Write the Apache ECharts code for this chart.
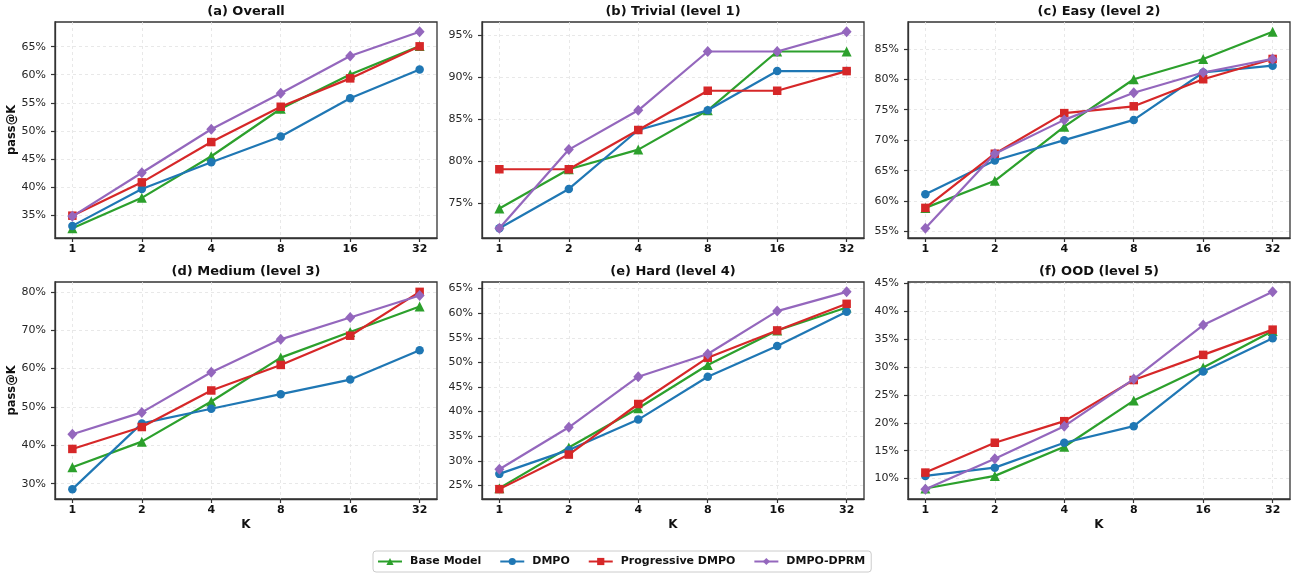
<!DOCTYPE html>
<html>
<head>
<meta charset="utf-8">
<script src="https://cdn.jsdelivr.net/npm/echarts@6/dist/echarts.min.js"></script>
<style>
html,body{margin:0;padding:0;background:#fff;}
#chart{width:1293px;height:573px;}
</style>
</head>
<body>
<div id="chart"></div>
<script>
// ---- data ----
const kLabels = ['1', '2', '4', '8', '16', '32'];
const seriesNames = ['Base Model', 'DMPO', 'Progressive DMPO', 'DMPO-DPRM'];
const panelTitles = ['(a) Overall', '(b) Trivial (level 1)', '(c) Easy (level 2)',
                     '(d) Medium (level 3)', '(e) Hard (level 4)', '(f) OOD (level 5)'];
const yStep = [5, 5, 5, 10, 5, 5];

// values in % ; order: Base Model, DMPO, Progressive DMPO, DMPO-DPRM
const overall = [
  [32.65, 38.06, 45.47, 53.94, 60.06, 65.10],
  [33.06, 39.65, 44.41, 49.00, 55.82, 60.94],
  [34.88, 40.82, 48.00, 54.29, 59.35, 65.06],
  [34.76, 42.53, 50.29, 56.70, 63.35, 67.65]
];
const trivial = [
  [74.42, 79.07, 81.40, 86.05, 93.02, 93.02],
  [72.09, 76.74, 83.72, 86.05, 90.70, 90.70],
  [79.07, 79.07, 83.72, 88.37, 88.37, 90.70],
  [72.09, 81.40, 86.05, 93.02, 93.02, 95.35]
];
const easy = [
  [58.89, 63.33, 72.22, 80.00, 83.33, 87.78],
  [61.11, 66.67, 70.00, 73.33, 81.11, 82.22],
  [58.89, 67.78, 74.44, 75.56, 80.00, 83.33],
  [55.56, 67.78, 73.33, 77.78, 81.11, 83.33]
];
const medium = [
  [34.29, 40.95, 51.43, 62.86, 69.52, 76.19],
  [28.57, 45.71, 49.52, 53.33, 57.14, 64.76],
  [39.05, 44.76, 54.29, 60.95, 68.57, 80.00],
  [42.86, 48.57, 59.05, 67.62, 73.33, 79.05]
];
const hard = [
  [24.46, 32.70, 40.68, 49.46, 56.49, 61.15],
  [27.36, 32.23, 38.38, 47.09, 53.31, 60.27],
  [24.26, 31.28, 41.55, 50.95, 56.49, 61.89],
  [28.31, 36.82, 47.09, 51.69, 60.41, 64.32]
];
const ood = [
  [8.21, 10.48, 15.71, 23.99, 29.94, 36.49],
  [10.48, 11.96, 16.43, 19.40, 29.23, 35.18],
  [11.07, 16.43, 20.30, 27.68, 32.20, 36.73],
  [8.10, 13.57, 19.40, 27.86, 37.56, 43.51]
];
const panels = [overall, trivial, easy, medium, hard, ood];

// ---- styles ----
const colors = ['#2ca02c', '#1f77b4', '#d62728', '#9467bd'];
const symbols = ['triangle', 'circle', 'rect', 'diamond'];
const symbolSizes = [10, 8.5, 8.5, [10, 11]];
const FONT = 'DejaVu Sans';
const frameColor = '#333333';
const textColor = '#262626';

const colLeft = [55, 482, 908];
const rowTop = [22, 282];
const gridW = 382;
const rowH = [216, 217];

const grids = [], xAxes = [], yAxes = [], titles = [], series = [];
const xIdx = kLabels.map((_, i) => i);

panels.forEach((panel, p) => {
  const r = Math.floor(p / 3), c = p % 3;
  grids.push({
    left: colLeft[c], top: rowTop[r], width: gridW, height: rowH[r],
    show: true, borderColor: frameColor, borderWidth: 1.3, backgroundColor: 'transparent'
  });
  titles.push({
    text: panelTitles[p],
    left: colLeft[c] + gridW / 2,
    textAlign: 'center',
    top: r === 0 ? 5 : 265,
    padding: 0,
    textStyle: { fontFamily: FONT, fontWeight: 'bold', fontSize: 13, color: '#111' }
  });
  xAxes.push({
    type: 'value', gridIndex: p, min: -0.25, max: 5.25,
    minInterval: 1, maxInterval: 1,
    name: r === 1 ? 'K' : '', nameLocation: 'middle', nameGap: 20,
    nameTextStyle: { fontFamily: FONT, fontWeight: 'bold', fontSize: 12, color: '#111' },
    axisLine: { show: true, onZero: false, lineStyle: { color: frameColor, width: 1.3 } },
    axisTick: { show: true, length: 4, customValues: xIdx, lineStyle: { color: frameColor, width: 1.2 } },
    axisLabel: {
      customValues: xIdx, margin: 6,
      formatter: v => kLabels[Math.round(v)] || '',
      fontFamily: FONT, fontWeight: 'bold', fontSize: 11, color: '#111'
    },
    splitLine: { show: true, lineStyle: { color: '#e3e3e3', type: [3, 3], width: 0.8 } }
  });
  let lo = Infinity, hi = -Infinity;
  panel.forEach(s => s.forEach(v => { lo = Math.min(lo, v); hi = Math.max(hi, v); }));
  const pad = (hi - lo) * 0.05;
  const ymin = lo - pad, ymax = hi + pad;
  const st = yStep[p];
  const yt = [];
  for (let t = Math.ceil(ymin / st) * st; t <= ymax + 1e-9; t += st) yt.push(t);
  yAxes.push({
    type: 'value', gridIndex: p, min: ymin, max: ymax,
    minInterval: st, maxInterval: st,
    name: c === 0 ? 'pass@K' : '', nameLocation: 'middle', nameGap: 35,
    nameTextStyle: { fontFamily: FONT, fontWeight: 'bold', fontSize: 11.5, color: '#111' },
    axisLine: { show: true, onZero: false, lineStyle: { color: frameColor, width: 1.3 } },
    axisTick: { show: true, length: 4, customValues: yt, lineStyle: { color: frameColor, width: 1.2 } },
    axisLabel: {
      customValues: yt, margin: 9,
      formatter: v => Math.round(v) + '%',
      fontFamily: FONT, fontSize: 11, color: textColor
    },
    splitLine: { show: true, lineStyle: { color: '#e3e3e3', type: [3, 3], width: 0.8 } }
  });
  panel.forEach((vals, s) => {
    series.push({
      type: 'line', name: seriesNames[s],
      xAxisIndex: p, yAxisIndex: p,
      data: vals.map((v, i) => [i, v]),
      symbol: symbols[s], symbolSize: symbolSizes[s],
      showAllSymbol: true,
      lineStyle: { color: colors[s], width: 2.2 },
      itemStyle: { color: colors[s], opacity: 1 },
      emphasis: { disabled: true },
      animation: false,
      z: 2 + s
    });
  });
});

const chart = echarts.init(document.getElementById('chart'), null, { renderer: 'canvas' });
chart.setOption({
  backgroundColor: '#ffffff',
  animation: false,
  color: colors,
  title: titles,
  grid: grids,
  xAxis: xAxes,
  yAxis: yAxes,
  legend: {
    data: seriesNames,
    left: 373, top: 551,
    orient: 'horizontal',
    itemWidth: 24, itemHeight: 9, itemGap: 18,
    padding: [5, 6, 5, 4],
    borderColor: '#cccccc', borderWidth: 1, borderRadius: 3,
    backgroundColor: '#ffffff',
    textStyle: { fontFamily: FONT, fontWeight: 'bold', fontSize: 11, color: '#111', padding: [0, 0, 0, 3] }
  },
  series: series
});
</script>
</body>
</html>
